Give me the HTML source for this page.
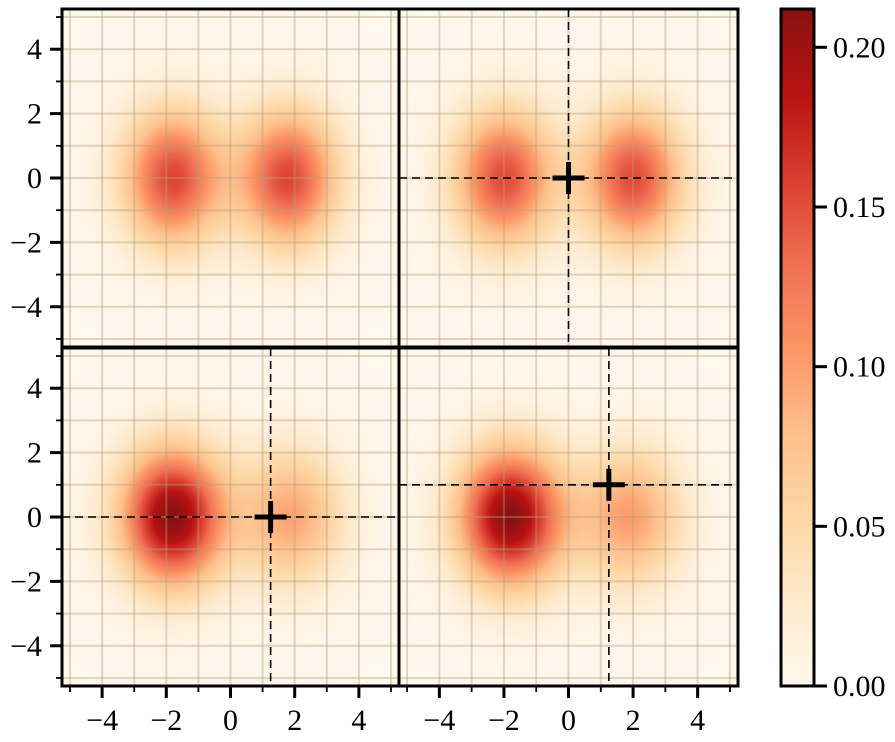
<!DOCTYPE html>
<html><head><meta charset="utf-8">
<style>
body{margin:0;background:#fff;width:895px;height:742px;overflow:hidden;font-family:"Liberation Serif",serif;}
#wrap{position:relative;width:895px;height:742px;}
canvas{position:absolute;}
svg{position:absolute;left:0;top:0;width:895px;height:742px;}
</style></head>
<body>
<div id="wrap">
<canvas id="c0"></canvas>
<canvas id="c1"></canvas>
<canvas id="c2"></canvas>
<canvas id="c3"></canvas>
<canvas id="cb"></canvas>
<svg id="s" width="895" height="742" viewBox="0 0 895 742"></svg>
</div>
<script>
// ---- data ----
const panelNames = ["top-left","top-right","bottom-left","bottom-right"];
const leftMeans = [[-1.8,0],[-2.0,0],[-1.8,0],[-1.8,0]];
const rightMeans = [[1.8,0],[2.0,0],[1.9,0],[1.9,0]];
const leftWeights = [0.155,0.152,0.212,0.212];
const rightWeights = [0.155,0.152,0.095,0.1];
const sigmaX = [1.1,1.1,1.15,1.15];
const sigmaY = [1.5,1.5,1.5,1.5];
const crossX = [null,0,1.25,1.25];
const crossY = [null,0,0,1];
const xTicks = [-4,-2,0,2,4];
const yTicks = [-4,-2,0,2,4];
const cbTicks = [0,0.05,0.10,0.15,0.20];
const cbTickLabels = ["0.00","0.05","0.10","0.15","0.20"];
const vmax = 0.212;

// ---- geometry ----
const panels=[{x:62,y:9,w:337},{x:399,y:9,w:339},{x:62,y:348,w:337},{x:399,y:348,w:339}];
const PH=338,DMIN=-5.25,DMAX=5.25;
const sx=(p,v)=>p.x+(v-DMIN)/(DMAX-DMIN)*p.w;
const sy=(p,v)=>p.y+(DMAX-v)/(DMAX-DMIN)*PH;
const stops=[[255,247,236],[254,232,200],[253,212,158],[253,187,132],[252,141,89],[239,101,72],[215,48,31],[179,0,0],[127,0,0]];
function cmap(t){t=Math.max(0,Math.min(1,t))*(stops.length-1);const i=Math.min(stops.length-2,Math.floor(t)),f=t-i;
 return stops[i].map((a,k)=>a+(stops[i+1][k]-a)*f).map(v=>255-(255-v)*0.93);}
function density(k,x,y){
 const g=(m,w)=>w*Math.exp(-((x-m[0])**2/(2*sigmaX[k]**2)+(y-m[1])**2/(2*sigmaY[k]**2)));
 return g(leftMeans[k],leftWeights[k])+g(rightMeans[k],rightWeights[k]);}
panels.forEach((p,k)=>{
 const PW=p.w;
 const c=document.getElementById('c'+k);c.width=PW;c.height=PH;c.style.left=p.x+'px';c.style.top=p.y+'px';
 const ctx=c.getContext('2d'),im=ctx.createImageData(PW,PH);
 for(let j=0;j<PH;j++)for(let i=0;i<PW;i++){
  const x=DMIN+(i+0.5)/PW*(DMAX-DMIN),y=DMAX-(j+0.5)/PH*(DMAX-DMIN);
  const col=cmap(density(k,x,y)/vmax),o=(j*PW+i)*4;
  im.data[o]=col[0];im.data[o+1]=col[1];im.data[o+2]=col[2];im.data[o+3]=255;}
 ctx.putImageData(im,0,0);
});
// colorbar
const CB={x:781,y:9,w:33,h:677};
(function(){const c=document.getElementById('cb');c.width=1;c.height=CB.h;c.style.left=CB.x+'px';c.style.top=CB.y+'px';c.style.width=CB.w+'px';c.style.height=CB.h+'px';
 const ctx=c.getContext('2d'),im=ctx.createImageData(1,CB.h);
 for(let j=0;j<CB.h;j++){const col=cmap(1-(j+0.5)/CB.h);im.data[j*4]=col[0];im.data[j*4+1]=col[1];im.data[j*4+2]=col[2];im.data[j*4+3]=255;}
 ctx.putImageData(im,0,0);})();

const svg=document.getElementById('s'),NS='http://www.w3.org/2000/svg';
const FONT='font-family:"Liberation Serif",serif;font-size:30px;fill:#000';
function el(t,a,st,txt){const e=document.createElementNS(NS,t);for(const k in a)e.setAttribute(k,a[k]);if(st)e.setAttribute('style',st);if(txt!=null)e.textContent=txt;svg.appendChild(e);return e;}
panels.forEach((p,k)=>{
 const PW=p.w;
 for(let v=-5;v<=5;v++){
  const gx=el('line',{x1:sx(p,v),x2:sx(p,v),y1:p.y,y2:p.y+PH},'stroke:#b89e7e;stroke-opacity:0.4;stroke-width:2px');
  
  const gy=el('line',{y1:sy(p,v),y2:sy(p,v),x1:p.x,x2:p.x+PW},'stroke:#b89e7e;stroke-opacity:0.4;stroke-width:2px');
  
 }
 if(crossX[k]!==null){
  const cx=sx(p,crossX[k]),cy=sy(p,crossY[k]);
  const d1=el('line',{x1:cx,x2:cx,y1:p.y,y2:p.y+PH},'stroke:#000;stroke-width:1.6px;stroke-dasharray:8,5');
  
  const d2=el('line',{y1:cy,y2:cy,x1:p.x,x2:p.x+PW},'stroke:#000;stroke-width:1.6px;stroke-dasharray:8,5');
  
  const m1=el('line',{x1:cx-16,x2:cx+16,y1:cy,y2:cy},'stroke:#000;stroke-width:5px');
  
  const m2=el('line',{x1:cx,x2:cx,y1:cy-16,y2:cy+16},'stroke:#000;stroke-width:5px');
  
 }
 if(k>=2){
  for(let v=-5;v<=5;v++){const major=xTicks.includes(v);
   const t=el('line',{x1:sx(p,v),x2:sx(p,v),y1:p.y+PH,y2:p.y+PH+(major?12:6)},'stroke:#000;stroke-width:'+(major?3:1.8)+'px');
   }
  xTicks.forEach(v=>{const t=el('text',{x:sx(p,v),y:730,'text-anchor':'middle'},FONT,(v<0?'\u2212':'')+Math.abs(v));
   });
 }
 if(k%2===0){
  for(let v=-5;v<=5;v++){const major=yTicks.includes(v);
   const t=el('line',{y1:sy(p,v),y2:sy(p,v),x1:p.x,x2:p.x-(major?12:6)},'stroke:#000;stroke-width:'+(major?3:1.8)+'px');
   }
  yTicks.forEach(v=>{const t=el('text',{x:42,y:sy(p,v)+10,'text-anchor':'end'},FONT,(v<0?'\u2212':'')+Math.abs(v));
   });
 }
 const r=el('rect',{x:p.x,y:p.y,width:PW,height:PH},'fill:none;stroke:#000;stroke-width:3px');
 
});
const cbr=el('rect',{x:CB.x,y:CB.y,width:CB.w,height:CB.h},'fill:none;stroke:#000;stroke-width:3px');

cbTicks.forEach((v,i)=>{const y=CB.y+CB.h-v/vmax*CB.h;
 const t=el('line',{x1:CB.x+CB.w,x2:CB.x+CB.w+13,y1:y,y2:y},'stroke:#000;stroke-width:3px');
 
 const l=el('text',{x:833,y:y+10},FONT,cbTickLabels[i]);
 });
</script>
</body></html>
